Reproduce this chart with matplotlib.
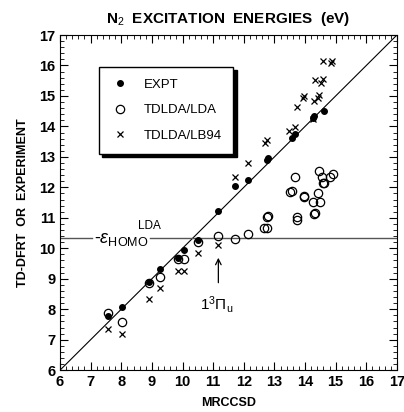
import matplotlib
matplotlib.use("Agg")
import matplotlib.pyplot as plt
from matplotlib.ticker import MultipleLocator

plt.rcParams["font.family"] = ["Liberation Sans", "DejaVu Sans"]
plt.rcParams["mathtext.fontset"] = "custom"
plt.rcParams["mathtext.rm"] = "Liberation Sans"
plt.rcParams["mathtext.it"] = "Liberation Sans:italic"

# MRCCSD reference energies (x) vs. experiment / TD-DFRT (y), in eV
expt_x = [7.56, 8.04, 8.92, 9.27, 9.85, 10.06, 10.50, 11.17, 11.72, 12.15,
          12.77, 12.80, 13.57, 13.68, 14.26, 14.30, 14.63]
expt_y = [7.78, 8.08, 8.91, 9.33, 9.67, 9.94, 10.27, 11.22, 12.04, 12.24,
          12.90, 12.98, 13.63, 13.74, 14.28, 14.33, 14.50]

lda_x = [7.56, 8.04, 8.92, 9.27, 9.85, 10.06, 10.50, 11.17, 11.72, 12.15,
         12.67, 12.77, 12.77, 12.80, 13.52, 13.57, 13.68, 13.73, 13.73, 13.95,
         13.97, 14.26, 14.30, 14.32, 14.41, 14.47, 14.50, 14.55, 14.58, 14.63,
         14.82, 14.90]
lda_y = [7.88, 7.58, 8.85, 9.07, 9.66, 9.66, 10.20, 10.40, 10.32, 10.46,
         10.65, 10.65, 11.04, 11.07, 11.85, 11.87, 12.35, 11.04, 10.92, 11.69,
         11.72, 11.53, 11.14, 11.16, 11.80, 12.53, 11.53, 12.35, 12.13, 12.13,
         12.35, 12.44]

lb94_x = [7.56, 8.04, 8.92, 9.27, 9.85, 10.06, 10.50, 11.17, 11.72, 12.15,
          12.70, 12.77, 13.49, 13.68, 13.74, 13.93, 13.97, 14.26, 14.28, 14.31,
          14.42, 14.47, 14.52, 14.58, 14.60, 14.85, 14.88]
lb94_y = [7.34, 7.18, 8.35, 8.71, 9.24, 9.24, 9.86, 10.10, 12.35, 12.79,
          13.47, 13.54, 13.85, 13.98, 14.65, 14.94, 14.99, 14.23, 14.83, 15.54,
          14.94, 15.02, 15.41, 16.14, 15.56, 16.09, 16.14]

homo_lda = 10.33
lim = [6, 17]

fig = plt.figure(figsize=(4.04, 4.12), dpi=100)
ax = fig.add_axes([0.1485, 0.1015, 0.834, 0.8135])

ax.plot(lim, lim, color="black", lw=0.8)
ax.plot([6, 7.05], [homo_lda, homo_lda], color="#555555", lw=1.0)
ax.plot([8.95, 17], [homo_lda, homo_lda], color="#555555", lw=1.0)

ax.plot(expt_x, expt_y, "o", ms=4, color="black", mec="black", label="EXPT", zorder=4)
ax.plot(lda_x, lda_y, "o", ms=6, mfc="none", mec="black", mew=0.9,
        label="TDLDA/LDA", zorder=3)
ax.plot(lb94_x, lb94_y, "x", ms=4.5, color="black", mew=0.9,
        label="TDLDA/LB94", zorder=3)

ax.text(7.1, homo_lda - 0.05, r"-$\varepsilon_{\rm HOMO}$", fontsize=13,
        va="center", ha="left")
ax.text(8.55, homo_lda + 0.2, "LDA", fontsize=8.5, va="bottom", ha="left")

# arrow marking the 1 3Pi_u state
ax.annotate("", xy=(11.17, 9.78), xytext=(11.17, 8.78),
            arrowprops=dict(arrowstyle="->", color="black", lw=0.9))
ax.text(11.12, 8.15, r"1$^3\Pi_{\rm u}$", fontsize=11, ha="center", va="center")

ax.set_xlim(lim)
ax.set_ylim(lim)
ax.xaxis.set_major_locator(MultipleLocator(1))
ax.yaxis.set_major_locator(MultipleLocator(1))
ax.xaxis.set_minor_locator(MultipleLocator(0.2))
ax.yaxis.set_minor_locator(MultipleLocator(0.2))
ax.tick_params(which="both", direction="in", top=True, right=True)
ax.tick_params(which="major", length=6, width=0.8)
ax.tick_params(which="minor", length=3, width=0.6)
ax.tick_params(labelsize=10.5)
for lab in ax.get_xticklabels() + ax.get_yticklabels():
    lab.set_fontweight("bold")

ax.set_title("N$_2$  EXCITATION  ENERGIES  (eV)", fontsize=11,
             fontweight="bold", pad=9)
ax.set_xlabel("MRCCSD", fontsize=9, fontweight="bold", labelpad=6)
ax.set_ylabel("TD-DFRT  OR  EXPERIMENT", fontsize=9, fontweight="bold",
              labelpad=7)

leg = ax.legend(loc="upper left", bbox_to_anchor=(0.095, 0.925), fancybox=False,
                edgecolor="black", framealpha=1, fontsize=9.5, handlelength=1.5,
                handletextpad=1.0, borderpad=0.9, labelspacing=1.0,
                shadow={"color": "black", "alpha": 1, "ox": 2.5, "oy": -2.5})
leg.get_frame().set_linewidth(1.0)

fig.savefig("out.png", dpi=100)
